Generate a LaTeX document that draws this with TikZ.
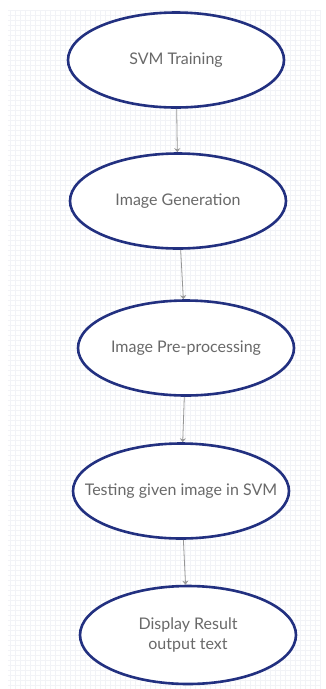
\documentclass[tikz,border=0pt]{standalone}
\usepackage{fontspec}
\setmainfont{Lato}
\usetikzlibrary{shapes.geometric,arrows.meta,positioning}

\definecolor{ovalblue}{RGB}{34,48,128}
\definecolor{labelgray}{RGB}{105,105,105}
\definecolor{arrowgray}{RGB}{150,150,150}
\definecolor{gridgray}{RGB}{242,243,247}

\begin{document}
\begin{tikzpicture}[x=1pt,y=-1pt,>={Stealth[length=4pt,width=6pt]}]
  \tikzset{
  stage/.style = {ellipse, draw=ovalblue, line width=2.6pt, fill=white,
    minimum width=216pt, minimum height=95pt, inner xsep=-40pt, inner ysep=0pt,
    align=center, text=labelgray, font=\fontsize{16}{20}\selectfont},% oval step
  flow/.style = {->, draw=arrowgray, line width=0.8pt}% link between steps
}

\useasboundingbox (0,0) rectangle (326,689);
% faint grid paper behind the chart
\fill[white] (0,0) rectangle (326,689);
\draw[gridgray, line width=0.3pt, step=5pt] (8,10) grid (320,689);

\node [stage] (train) at (176,60) {SVM Training};
\node [stage] (gen)   at (178,201) {Image Generation};
\node [stage] (pre)   at (186,348) {Image Pre-processing};
\node [stage] (test)  at (181,491) {Testing given image in SVM};
\node [stage, minimum height=98pt] (show) at (188,635) {Display Result\\output text};

\draw [flow] (train) -- (gen);
\draw [flow] (gen) -- (pre);
\draw [flow] (pre) -- (test);
\draw [flow] (test) -- (show);
\end{tikzpicture}
\end{document}
